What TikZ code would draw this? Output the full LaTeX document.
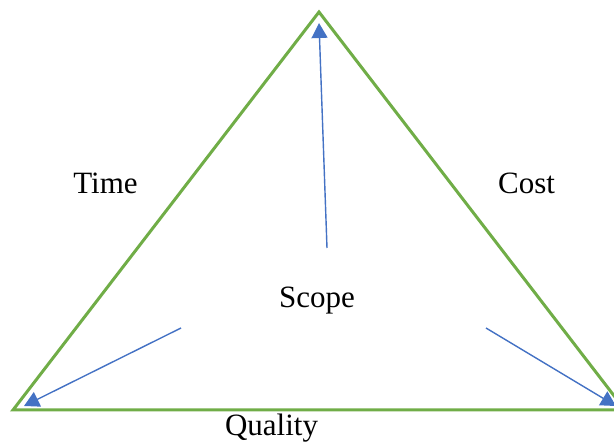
\documentclass[tikz,border=0pt]{standalone}
\usepackage{fontspec}
\setmainfont{Liberation Serif}
\usetikzlibrary{arrows.meta}
\definecolor{tgreen}{RGB}{112,173,71}
\definecolor{tblue}{RGB}{68,114,196}
\tikzset{
  side/.style={draw=tgreen, line width=3pt, line join=miter},
  pointer/.style={draw=tblue, line width=1.4pt, -{Triangle[length=15pt,width=16pt]}},
  lbl/.style={font=\fontsize{31}{37}\selectfont, anchor=base, inner sep=0pt}
}
\begin{document}
\begin{tikzpicture}[x=1pt,y=-1pt]
\clip (0,0) rectangle (614,443);
\useasboundingbox (0,0) rectangle (614,443);
\coordinate (A) at (319,12);
\coordinate (B) at (13,410);
\coordinate (C) at (625,410);
\draw[side] (A) -- (B) -- (C) -- cycle;
\coordinate (s1) at (327,248);
\coordinate (t1) at (319,23);
\coordinate (s2) at (181,328);
\coordinate (t2) at (24,406);
\coordinate (s3) at (486,328);
\coordinate (t3) at (616,406);
\draw[pointer] (s1) -- (t1);
\draw[pointer] (s2) -- (t2);
\draw[pointer] (s3) -- (t3);
\node[lbl] (time) at (105.5,194) {Time};
\node[lbl] (cost) at (526.5,194) {Cost};
\node[lbl] (scope) at (317,308) {Scope};
\node[lbl] (quality) at (271.5,436) {Quality};
\end{tikzpicture}
\end{document}
